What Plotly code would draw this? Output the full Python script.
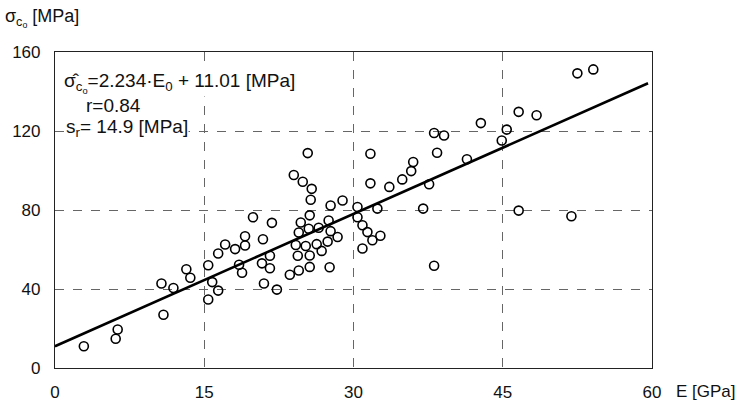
import plotly.graph_objects as go

# Measured points: modulus E [GPa] and strength sigma_c0 [MPa]
E_gpa = [2.9, 6.1, 6.3, 10.9, 10.7, 11.9, 13.2, 13.6, 15.4, 15.4,
         15.8, 16.4, 16.4, 17.1, 18.1, 19.1, 19.1, 18.5, 18.8, 19.9,
         20.9, 21.8, 21.6, 20.8, 21.6, 21.0, 22.3, 23.6, 24.5, 24.4,
         24.2, 25.2, 24.5, 24.7, 25.5, 25.6, 25.6, 25.4, 24.0, 24.9,
         25.8, 25.7, 27.7, 28.9, 25.6, 26.5, 27.5, 27.7, 28.4, 26.3,
         27.4, 26.8, 27.6, 30.4, 30.4, 30.9, 31.4, 31.9, 32.7, 30.9,
         32.4, 31.7, 31.7, 33.6, 34.9, 35.8, 36.0, 37.6, 37.0, 38.1,
         38.1, 39.1, 38.4, 41.4, 42.8, 44.9, 45.4, 46.6, 48.4, 46.6,
         51.9, 52.5, 54.1]
sigma_mpa = [11.0, 14.8, 19.5, 27.0, 42.8, 40.5, 50.0, 45.7, 34.7, 52.0,
             43.5, 39.2, 58.0, 62.5, 60.2, 62.0, 66.7, 52.3, 48.2, 76.3,
             65.2, 73.5, 56.8, 53.0, 50.5, 42.8, 39.7, 47.2, 49.4, 56.8,
             62.3, 61.8, 68.6, 73.7, 70.5, 57.0, 51.2, 108.8, 97.7, 94.3,
             90.7, 85.2, 82.3, 84.8, 77.3, 71.0, 74.7, 69.3, 66.3, 62.7,
             64.0, 59.3, 51.0, 81.5, 76.3, 72.3, 68.8, 64.7, 67.0, 60.5,
             80.7, 108.5, 93.5, 91.7, 95.5, 99.7, 104.3, 93.0, 80.7, 51.8,
             119.0, 117.7, 109.0, 105.7, 124.0, 115.2, 120.7, 129.7, 128.0, 79.7,
             76.8, 149.2, 151.2]

# Regression line from the chart's equation
slope = 2.234
intercept = 11.01
line_x = [0.0, 59.6]
line_y = [slope * v + intercept for v in line_x]

x_ticks = [0, 15, 30, 45, 60]
y_ticks = [0, 40, 80, 120, 160]

FONT = "Liberation Sans, Arial, sans-serif"

fig = go.Figure()
fig.add_trace(go.Scatter(
    x=line_x, y=line_y, mode="lines",
    line=dict(color="black", width=2.6), showlegend=False, hoverinfo="skip"))
fig.add_trace(go.Scatter(
    x=E_gpa, y=sigma_mpa, mode="markers",
    marker=dict(symbol="circle-open", size=9, color="black", line=dict(width=1.6, color="black")),
    showlegend=False))

axis_common = dict(
    showgrid=True, gridcolor="#666", griddash="dash", gridwidth=1,
    showline=True, linecolor="#222", linewidth=1.2, mirror=True,
    zeroline=False, ticks="", tickfont=dict(family=FONT, size=17, color="#111"),
)

fig.update_xaxes(range=[0, 60], tickvals=x_ticks, ticktext=[str(t) for t in x_ticks],
                 ticklabelstandoff=8, **axis_common)
fig.update_yaxes(range=[0, 160], tickvals=y_ticks, ticktext=[str(t) for t in y_ticks],
                 ticklabelstandoff=10, **axis_common)

ann_font = dict(family=FONT, size=19, color="#111")
fig.add_annotation(x=0.8, y=144.5, xref="x", yref="y", xanchor="left", yanchor="middle",
                   text="σ̂<sub>c<sub>o</sub></sub>=2.234·E<sub>0</sub> + 11.01 [MPa]",
                   showarrow=False, font=ann_font, bgcolor="white", borderpad=0)
fig.add_annotation(x=3.0, y=133, xref="x", yref="y", xanchor="left", yanchor="middle",
                   text="r=0.84", showarrow=False, font=ann_font, bgcolor="white", borderpad=0)
fig.add_annotation(x=1.0, y=121.5, xref="x", yref="y", xanchor="left", yanchor="middle",
                   text="s<sub>r</sub>= 14.9 [MPa]", showarrow=False, font=ann_font,
                   bgcolor="white", borderpad=0)

# Axis titles
fig.add_annotation(xref="paper", yref="paper", x=-52 / 600, y=1 + 34 / 320,
                   xanchor="left", yanchor="middle",
                   text="σ<sub>c<sub>o</sub></sub> [MPa]", showarrow=False,
                   font=dict(family=FONT, size=18, color="#111"))
fig.add_annotation(xref="paper", yref="paper", x=1 + 22 / 600, y=-24 / 320,
                   xanchor="left", yanchor="middle",
                   text="E [GPa]", showarrow=False,
                   font=dict(family=FONT, size=17, color="#111"))

fig.update_layout(
    width=737, height=414,
    margin=dict(l=52, r=85, t=52, b=42),
    paper_bgcolor="white", plot_bgcolor="white",
    font=dict(family=FONT, color="#111"),
)

fig.write_html("out.html")
